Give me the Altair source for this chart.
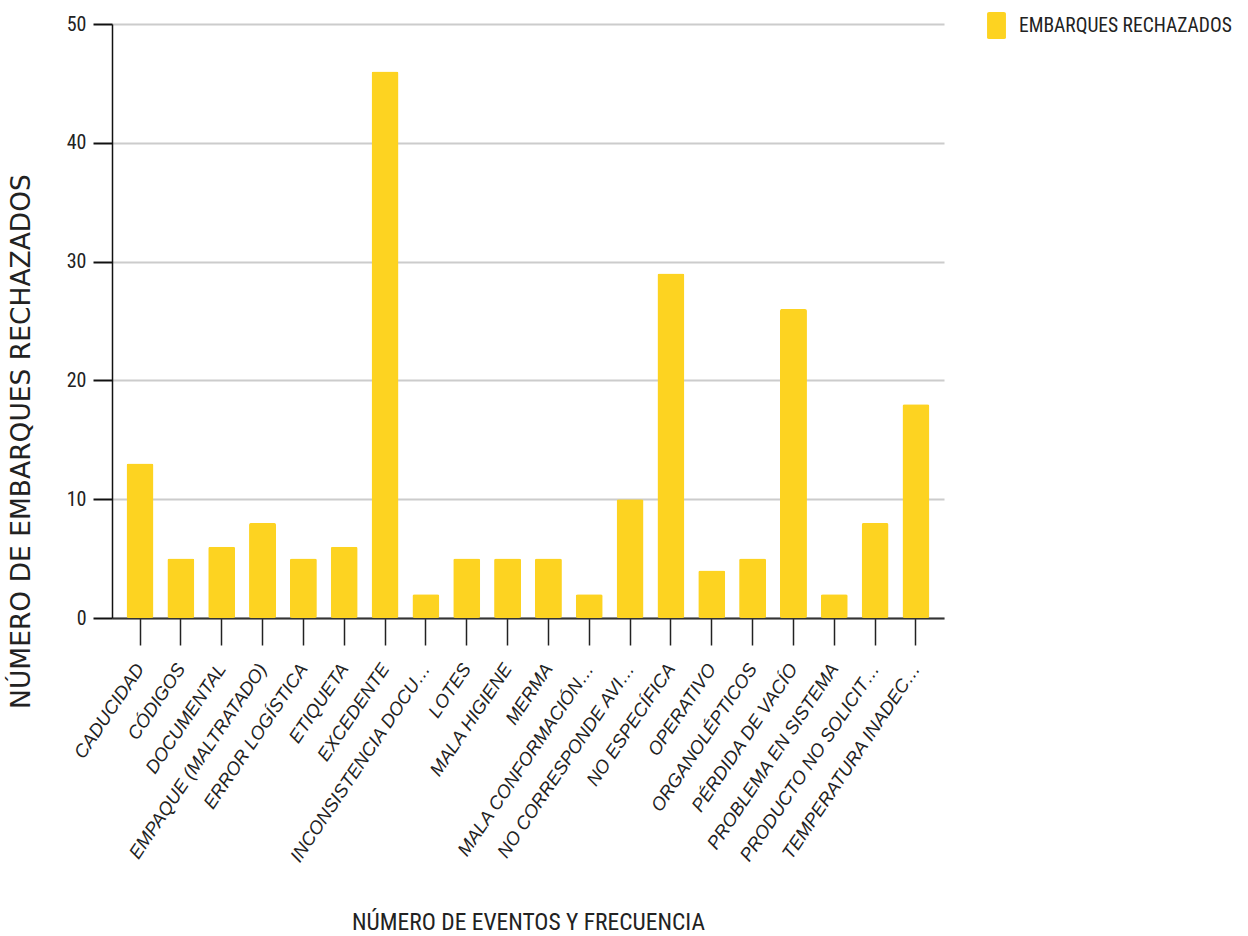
import altair as alt
import pandas as pd

categorias = [
    "CADUCIDAD", "CÓDIGOS", "DOCUMENTAL", "EMPAQUE (MALTRATADO)", "ERROR LOGÍSTICA",
    "ETIQUETA", "EXCEDENTE", "INCONSISTENCIA DOCU…", "LOTES", "MALA HIGIENE",
    "MERMA", "MALA CONFORMACIÓN…", "NO CORRESPONDE AVI…", "NO ESPECÍFICA", "OPERATIVO",
    "ORGANOLÉPTICOS", "PÉRDIDA DE VACÍO", "PROBLEMA EN SISTEMA", "PRODUCTO NO SOLICIT…",
    "TEMPERATURA INADEC…",
]
valores = [13, 5, 6, 8, 5, 6, 46, 2, 5, 5, 5, 2, 10, 29, 4, 5, 26, 2, 8, 18]
serie = "EMBARQUES RECHAZADOS"
ticks_y = [0, 10, 20, 30, 40, 50]

df = pd.DataFrame({"categoria": categorias, "valor": valores, "serie": [serie] * len(valores)})

narrow = "Liberation Sans Narrow, Roboto Condensed, Roboto, Liberation Sans, sans-serif"

rect_path = ("M-0.55,-1 H0.55 Q0.7,-1 0.7,-0.88 V0.88 Q0.7,1 0.55,1 H-0.55 "
             "Q-0.7,1 -0.7,0.88 V-0.88 Q-0.7,-1 -0.55,-1 Z")

chart = alt.Chart(df).mark_bar(cornerRadius=2).encode(
    x=alt.X(
        "categoria:N",
        sort=None,
        scale=alt.Scale(paddingInner=0.339, paddingOuter=0.356),
        axis=alt.Axis(
            title="NÚMERO DE EVENTOS Y FRECUENCIA",
            titleFont=narrow, titleFontSize=23.5, titleFontWeight="normal", titleColor="#222",
            titleX=416, titleY=304, titleAlign="center", titleBaseline="middle",
            labelAngle=-56, labelAlign="right", labelBaseline="middle",
            labelFont="Liberation Sans, Arial, sans-serif", labelFontSize=18.5,
            labelFontStyle="italic", labelColor="#222",
            labelPadding=20, labelLimit=400,
            tickSize=27, tickColor="#222", tickWidth=1.5,
            domainColor="#333", domainWidth=2,
        ),
    ),
    y=alt.Y(
        "valor:Q",
        scale=alt.Scale(domain=[0, 50], nice=False),
        axis=alt.Axis(
            title="NÚMERO DE EMBARQUES RECHAZADOS",
            titleFont="DejaVu Sans, sans-serif", titleFontSize=26.5, titleFontWeight="normal",
            titleColor="#222", titleAngle=270, titleX=-91, titleY=417,
            titleAlign="center", titleBaseline="middle",
            values=ticks_y, labelFont=narrow, labelFontSize=20, labelColor="#222",
            labelPadding=7,
            tickSize=19, tickColor="#111", tickWidth=2,
            domainColor="#111", domainWidth=1.5,
            grid=True, gridColor="#cccccc", gridWidth=2,
        ),
    ),
    color=alt.Color(
        "serie:N",
        scale=alt.Scale(domain=[serie], range=["#FDD321"]),
        legend=alt.Legend(
            title=None, orient="none", legendX=871, legendY=-12,
            symbolType=rect_path, symbolSize=729, symbolStrokeWidth=0,
            symbolOpacity=1,
            labelFont=narrow, labelFontSize=19.5, labelColor="#222", labelOffset=9,
            labelLimit=400, padding=0,
        ),
    ),
).properties(
    width=832,
    height=594,
    background="white",
    autosize=alt.AutoSizeParams(type="none"),
    padding={"left": 112, "top": 24, "right": 304, "bottom": 318},
).configure_view(stroke=None)

chart.save("out.html", embed_options={"renderer": "svg", "actions": False})
